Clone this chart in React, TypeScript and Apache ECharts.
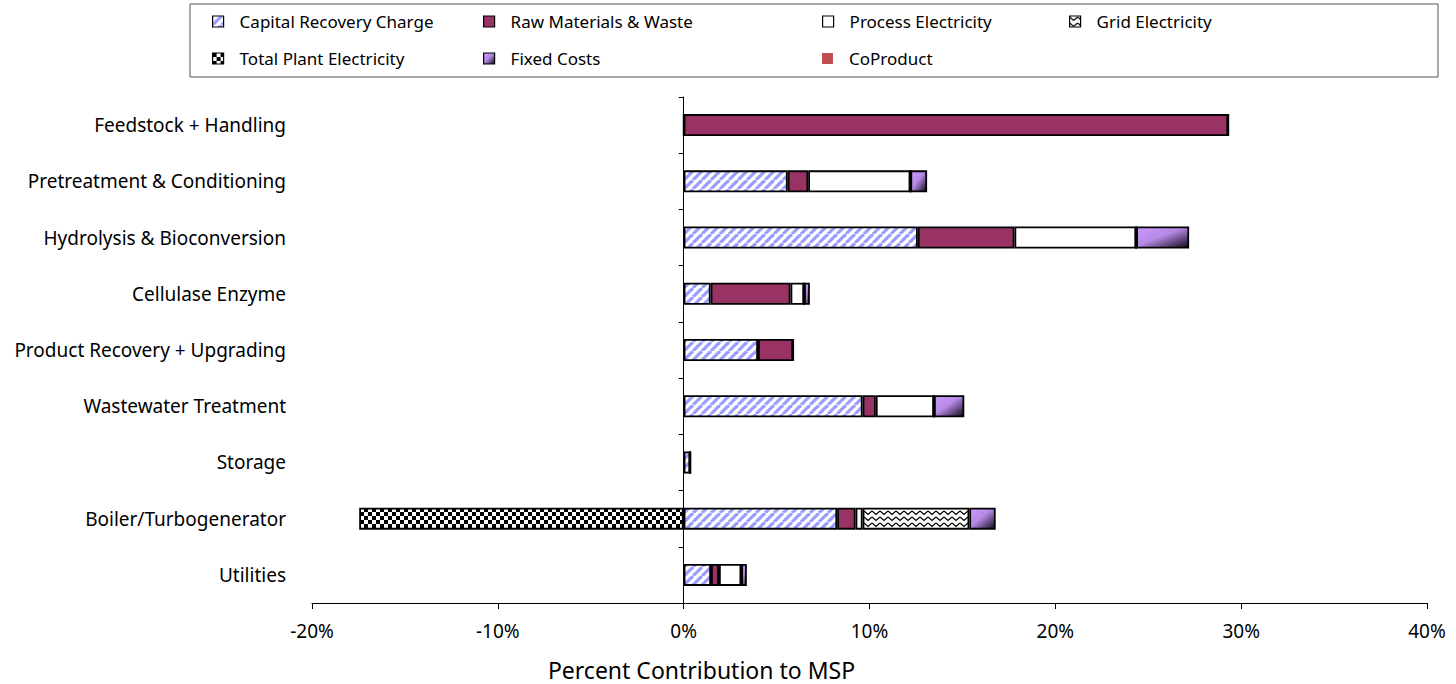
import React, { useEffect, useRef } from "react";
import * as echarts from "echarts";

const categories = [
  "Feedstock + Handling",
  "Pretreatment & Conditioning",
  "Hydrolysis & Bioconversion",
  "Cellulase Enzyme",
  "Product Recovery + Upgrading",
  "Wastewater Treatment",
  "Storage",
  "Boiler/Turbogenerator",
  "Utilities",
];

const capitalRecovery = [0, 5.6, 12.6, 1.45, 4.0, 9.63, 0.35, 8.26, 1.47];
const rawMaterials = [29.3, 1.1, 5.2, 4.3, 1.89, 0.71, 0, 0.99, 0.43];
const processElectricity = [0, 5.5, 6.55, 0.73, 0, 3.13, 0, 0.38, 1.2];
const gridElectricity = [0, 0, 0, 0, 0, 0, 0, 5.74, 0];
const totalPlantElectricity = [0, 0, 0, 0, 0, 0, 0, -17.46, 0];
const fixedCosts = [0, 0.9, 2.85, 0.31, 0, 1.63, 0, 1.42, 0.3];
const coProduct = [0, 0, 0, 0, 0, 0, 0, 0, 0];

const xTicks = [-20, -10, 0, 10, 20, 30, 40];

const FONT = "'Noto Sans', 'Open Sans', sans-serif";

function makePattern(w: number, h: number, draw: (c: CanvasRenderingContext2D) => void) {
  const cv = document.createElement("canvas");
  cv.width = w;
  cv.height = h;
  const ctx = cv.getContext("2d")!;
  ctx.fillStyle = "#ffffff";
  ctx.fillRect(0, 0, w, h);
  draw(ctx);
  return { image: cv.toDataURL(), repeat: "repeat" } as any;
}

export default function App() {
  const ref = useRef<HTMLDivElement>(null);

  useEffect(() => {
    if (!ref.current) return;
    const chart = echarts.init(ref.current, undefined, { renderer: "svg" });

    const stripes = makePattern(9, 9, (c) => {
      c.strokeStyle = "#9c9cff";
      c.lineWidth = 3.2;
      for (let k = -1; k <= 1; k++) {
        c.beginPath();
        c.moveTo(k * 9, 9);
        c.lineTo(k * 9 + 9, 0);
        c.stroke();
      }
    });
    const checker = makePattern(8, 8, (c) => {
      c.fillStyle = "#000000";
      c.fillRect(0, 0, 4, 4);
      c.fillRect(4, 4, 4, 4);
    });
    const wave = makePattern(8, 6, (c) => {
      c.strokeStyle = "#000000";
      c.lineWidth = 1.3;
      c.beginPath();
      c.moveTo(0, 1);
      c.lineTo(4, 4.5);
      c.lineTo(8, 1);
      c.stroke();
    });
    const fixedGrad = new echarts.graphic.LinearGradient(0, 0, 1, 1, [
      { offset: 0, color: "#cc99ff" },
      { offset: 0.45, color: "#b68ae6" },
      { offset: 1, color: "#120a1c" },
    ]);

    const border = { borderColor: "#000", borderWidth: 1.8 };

    const mk = (name: string, data: number[], color: any) => ({
      name,
      type: "bar",
      stack: "total",
      yAxisIndex: 0,
      barWidth: 22,
      data,
      itemStyle: { color, ...border },
      emphasis: { disabled: true },
    });

    const series = [
      mk("Capital Recovery Charge", capitalRecovery, stripes),
      mk("Raw Materials & Waste", rawMaterials, "#993366"),
      mk("Process Electricity", processElectricity, "#ffffff"),
      mk("Grid Electricity", gridElectricity, wave),
      mk("Total Plant Electricity", totalPlantElectricity, checker),
      mk("Fixed Costs", fixedCosts, fixedGrad),
      mk("CoProduct", coProduct, "#c0504d"),
    ];
    (series[6].itemStyle as any).borderWidth = 0;

    const legendPos: [string, number, number][] = [
      ["Capital Recovery Charge", 212, 13],
      ["Raw Materials & Waste", 483, 13],
      ["Process Electricity", 822, 13],
      ["Grid Electricity", 1069, 13],
      ["Total Plant Electricity", 212, 50],
      ["Fixed Costs", 483, 50],
      ["CoProduct", 822, 50],
    ];

    const legends = legendPos.map(([name, left, top]) => ({
      data: [name],
      left,
      top,
      icon: "rect",
      itemWidth: 11,
      itemHeight: 11,
      padding: 0,
      selectedMode: false,
      itemStyle: { borderColor: "#000", borderWidth: name === "CoProduct" ? 0 : 1.2 },
      textStyle: {
        fontFamily: FONT,
        fontSize: 17,
        color: "#000",
        padding: [0, 0, 0, 11],
      },
    }));

    chart.setOption({
      animation: false,
      backgroundColor: "#fff",
      graphic: [
        {
          type: "rect",
          shape: { x: 190, y: 4, width: 1248, height: 73 },
          style: { fill: "none", stroke: "#555", lineWidth: 1 },
          z: 0,
        },
      ],
      legend: legends,
      grid: {
        left: 312,
        right: 29,
        top: 97,
        bottom: 81,
        containLabel: false,
        outerBoundsMode: "none",
      },
      xAxis: {
        type: "value",
        min: -20,
        max: 40,
        interval: 10,
        name: "Percent Contribution to MSP",
        nameLocation: "middle",
        nameGap: 55,
        nameMoveOverlap: false,
        nameTextStyle: {
          fontFamily: FONT,
          fontSize: 23,
          color: "#000",
          padding: [0, 336, 0, 0],
        },
        axisLine: { show: true, onZero: false, lineStyle: { color: "#000", width: 1 } },
        axisTick: { show: true, length: 6, lineStyle: { color: "#000" } },
        axisLabel: {
          fontFamily: FONT,
          fontSize: 19,
          color: "#000",
          margin: 18,
          formatter: (v: number) => (xTicks.includes(v) ? `${v}%` : ""),
        },
        splitLine: { show: false },
      },
      yAxis: [
        {
          type: "category",
          data: categories,
          inverse: true,
          position: "left",
          axisLine: { show: false, onZero: false },
          axisTick: { show: false },
          axisLabel: { fontFamily: FONT, fontSize: 19, color: "#000", margin: 26 },
        },
        {
          type: "category",
          data: categories,
          inverse: true,
          position: "left",
          axisLine: { show: true, onZero: true, lineStyle: { color: "#000", width: 1 } },
          axisTick: { show: true, length: 5, lineStyle: { color: "#000" } },
          axisLabel: { show: false },
        },
      ],
      series,
    });

    return () => chart.dispose();
  }, []);

  return (
    <div
      ref={ref}
      style={{ position: "fixed", left: 0, top: 0, width: 1456, height: 684 }}
    />
  );
}
